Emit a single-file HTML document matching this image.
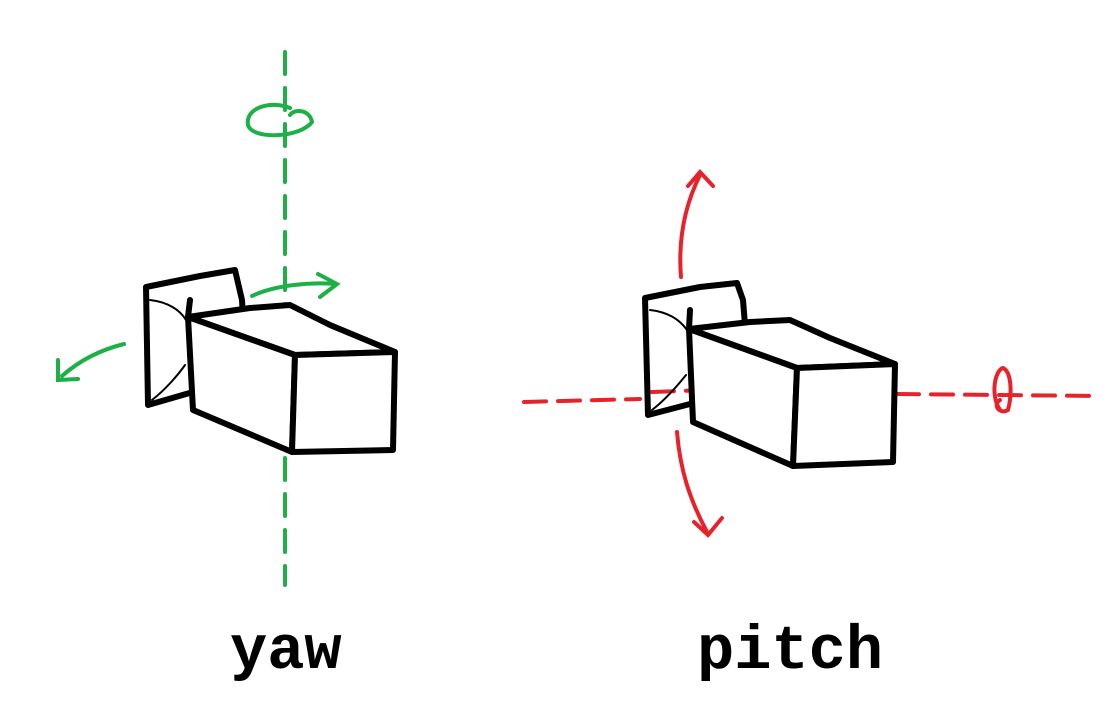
<!DOCTYPE html>
<html><head><meta charset="utf-8"><style>
html,body{margin:0;padding:0;background:#fff;width:1115px;height:713px;overflow:hidden}
svg{display:block}
text{font-family:"Liberation Mono",monospace;font-weight:bold;font-size:62px;fill:#000}
</style></head><body>
<svg width="1115" height="713" viewBox="0 0 1115 713">
<g>
  <g stroke="#1db046" stroke-width="4" fill="none" stroke-linecap="round">
    <path d="M285 52 V325 M285 458 V585" stroke-dasharray="22 14"/>
    <path d="M290 108 C270 100 245 108 248 125 C252 140 300 138 312 122 C310 110 295 108 290 115"/>
    <path d="M252 296 C275 285 310 282 336 284 M318 274 L337 284 L320 297"/>
    <path d="M124 344 C100 350 80 360 62 376 M58 360 L58 380 L78 379"/>
  </g>
  <g stroke="#000" stroke-width="6" fill="none" stroke-linejoin="round" stroke-linecap="round">
    <path d="M188 317 L190 300 M146 287 L200 276 L235 270 L242 300 L243 318 M146 287 L148 405 L193 392"/>
    <path d="M188 317 L250 308 L290 305 L330 325 L395 352 L295 355 Z" fill="#fff"/>
    <path d="M188 317 L193 410 L292 452 L295 355 Z" fill="#fff"/>
    <path d="M295 355 L395 352 L393 450 L292 452 Z" fill="#fff"/>
    <path d="M150 300 C168 302 180 310 186 320 M152 400 C165 390 178 375 185 365" stroke-width="2"/>
  </g>
  <text x="230" y="668">yaw</text>
</g>
<g>
  <g stroke="#e8222a" stroke-width="4" fill="none" stroke-linecap="round">
    <path d="M524 402 L640 399 M652 392 L737 389 M897 394 L1100 396" stroke-dasharray="22 12"/>
    <path d="M1000 410 C990 395 995 370 1003 368 C1012 372 1012 395 1008 410 C1000 415 992 405 1000 400"/>
    <path d="M681 277 C678 240 685 205 700 175 M688 186 L700 172 L713 186"/>
    <path d="M677 432 C680 470 690 500 707 532 M694 522 L708 535 L722 518"/>
  </g>
  <g stroke="#000" stroke-width="6" fill="none" stroke-linejoin="round" stroke-linecap="round">
    <path d="M689 329 L690 310 M645 298 L700 287 L737 283 L743 300 L745 325 M645 298 L648 415 L690 404"/>
    <path d="M689 329 L750 322 L790 320 L830 338 L895 364 L797 368 Z" fill="#fff"/>
    <path d="M689 329 L693 422 L793 466 L797 368 Z" fill="#fff"/>
    <path d="M797 368 L895 364 L893 462 L793 466 Z" fill="#fff"/>
    <path d="M650 310 C668 312 680 320 687 330 M652 410 C665 400 678 385 686 375" stroke-width="2"/>
  </g>
  <text x="697" y="668">pitch</text>
</g>
</svg>
</body></html>
